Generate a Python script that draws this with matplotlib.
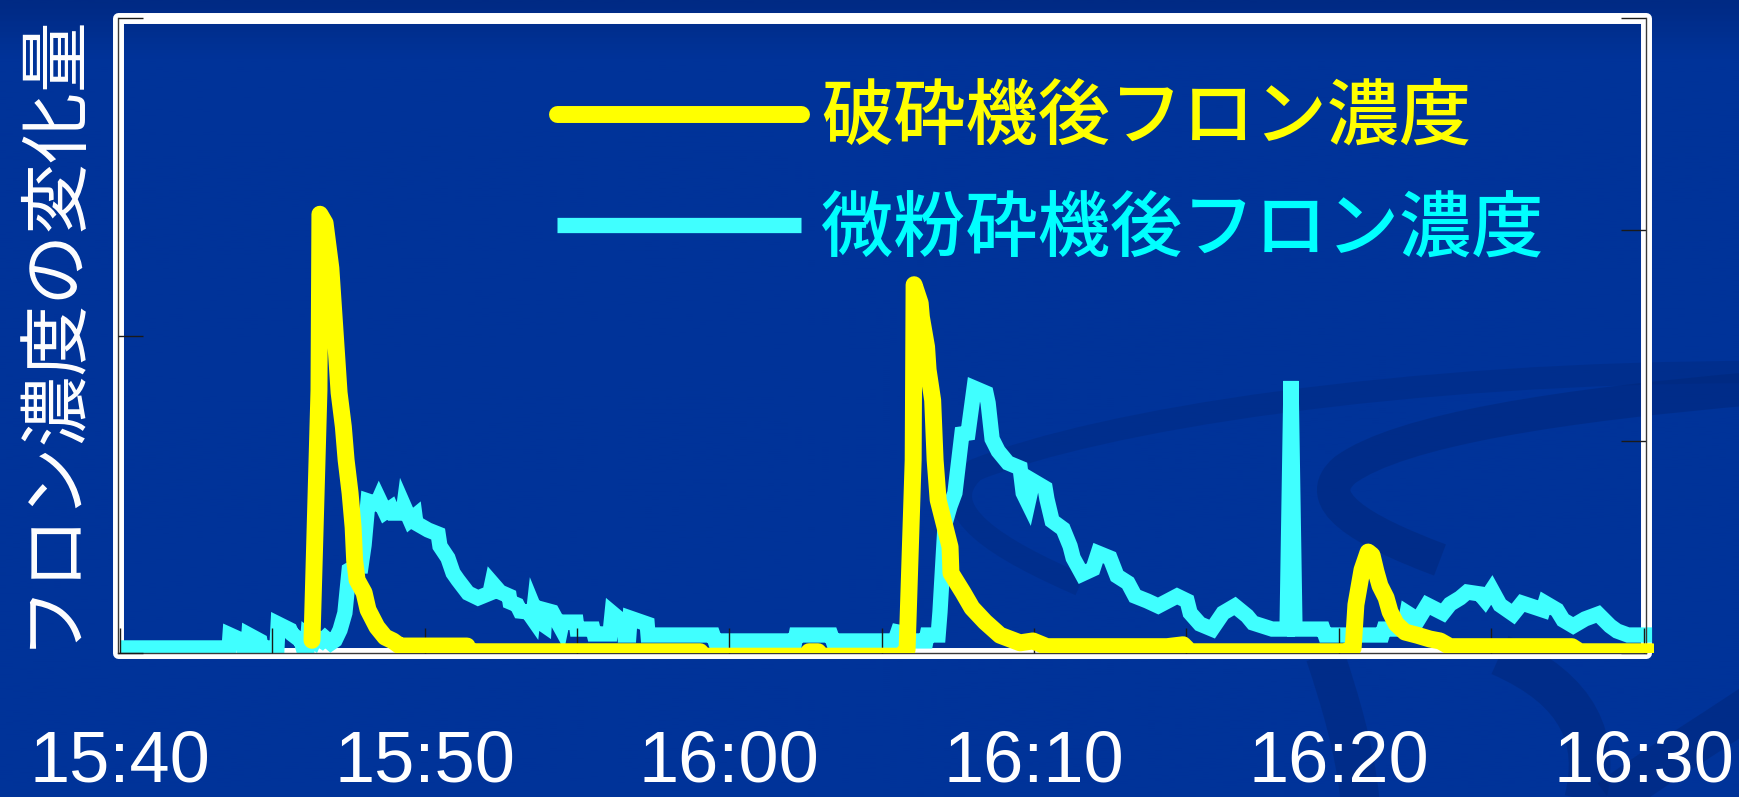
import matplotlib
matplotlib.use('Agg')
import matplotlib.pyplot as plt
from matplotlib.patches import Rectangle, PathPatch
from matplotlib.path import Path
from matplotlib.transforms import Bbox, TransformedBbox
from matplotlib.colors import LinearSegmentedColormap
import numpy as np

# minutes after 15:40
crusher_min = [6.30, 6.53, 6.56, 6.73, 6.92, 7.12, 7.19, 7.33, 7.42, 7.55,
               7.65, 7.70, 7.78, 8.01, 8.14, 8.43, 8.70, 8.96, 9.19, 11.39,
               11.45, 19.04, 19.10, 22.55, 22.61, 22.91, 22.97, 25.60, 25.83, 26.03,
               26.06, 26.26, 26.30, 26.47, 26.52, 26.67, 26.75, 26.85, 27.24, 27.27,
               27.67, 27.96, 28.39, 28.88, 29.54, 29.96, 30.42, 34.36, 34.89, 35.12,
               40.20, 40.47, 40.56, 40.76, 40.96, 41.09, 41.22, 41.35, 41.55, 41.68,
               41.88, 42.17, 42.57, 42.99, 43.32, 43.65, 47.65, 47.91, 50.28]
crusher_val = [20, 414, 691, 677, 606, 461, 410, 356, 304, 252,
               198, 146, 115, 95, 68, 41, 25, 19, 11, 11,
               2, 2, -5, -5, 2, 2, -5, -5, 5, 304,
               580, 551, 529, 482, 446, 398, 304, 241, 167, 126,
               95, 71, 49, 28, 16, 19, 10, 10, 13, 2,
               2, 8, 76, 131, 159, 154, 128, 106, 87, 65,
               46, 33, 28, 22, 19, 10, 10, 2, 2]

mill_min = [0.00, 3.58, 3.61, 4.04, 4.07, 4.20, 4.23, 4.59, 4.63, 5.15,
            5.19, 5.58, 5.64, 5.94, 6.01, 6.14, 6.17, 6.37, 6.43, 6.63,
            6.73, 6.92, 7.06, 7.22, 7.38, 7.52, 7.75, 7.91, 8.01, 8.14,
            8.43, 8.50, 8.70, 8.89, 8.96, 9.29, 9.32, 9.52, 9.68, 9.71,
            10.11, 10.44, 10.50, 10.76, 10.93, 11.09, 11.42, 11.75, 12.14, 12.21,
            12.47, 12.77, 12.80, 13.03, 13.13, 13.39, 13.55, 13.59, 13.78, 13.92,
            13.95, 14.18, 14.47, 14.51, 14.97, 15.00, 15.52, 15.56, 16.08, 16.15,
            16.54, 16.57, 16.70, 16.74, 17.30, 17.33, 19.46, 19.53, 22.15, 22.19,
            23.33, 23.40, 25.43, 25.53, 25.70, 25.76, 26.45, 26.49, 26.85, 26.91,
            27.08, 27.24, 27.40, 27.63, 27.83, 28.03, 28.42, 28.49, 28.62, 28.82,
            29.14, 29.54, 29.64, 29.80, 29.96, 30.36, 30.42, 30.59, 30.95, 31.18,
            31.28, 31.57, 31.93, 32.10, 32.49, 32.72, 33.08, 33.31, 33.71, 34.07,
            34.69, 35.02, 35.12, 35.44, 35.84, 36.20, 36.59, 36.99, 37.18, 37.81,
            38.30, 38.43, 38.56, 39.48, 39.55, 41.42, 41.48, 42.14, 42.24, 42.60,
            42.90, 43.42, 43.65, 43.98, 44.21, 44.63, 44.80, 45.02, 45.29, 45.62,
            45.72, 46.01, 46.70, 46.77, 47.16, 47.36, 47.69, 48.08, 48.51, 48.90,
            49.13, 49.49, 50.28]
mill_val = [2.4, 2.4, 8.5, 5.7, 2.4, 2.4, 8.5, 5.7, 2.4, 2.4,
            13.7, 10.9, 9.0, 5.7, 2.4, 2.4, 8.0, 5.7, 7.6, 5.7,
            7.1, 4.7, 6.1, 10.9, 18.9, 39.2, 41.1, 41.1, 51.0, 71.8,
            70.4, 72.7, 66.6, 68.5, 66.1, 66.1, 69.4, 62.8, 64.7, 61.4,
            58.1, 56.2, 50.5, 44.9, 37.8, 34.5, 28.3, 26.0, 28.3, 33.1,
            28.8, 26.9, 24.1, 22.7, 19.8, 19.4, 16.1, 21.3, 14.6, 13.2,
            20.3, 19.4, 11.8, 14.6, 14.6, 11.3, 11.3, 9.0, 9.0, 18.9,
            14.2, 8.5, 8.5, 16.5, 13.7, 8.5, 8.5, 5.7, 5.7, 8.5,
            8.5, 5.7, 5.7, 9.9, 9.4, 5.7, 5.7, 8.5, 8.5, 19.4,
            61.4, 69.4, 75.6, 103.5, 103.9, 125.2, 122.8, 118.1, 101.1, 95.4,
            89.8, 87.4, 75.6, 70.9, 81.3, 77.9, 72.7, 62.4, 58.6, 50.5,
            44.9, 37.3, 39.7, 47.2, 44.9, 36.4, 33.1, 26.9, 24.6, 22.2,
            26.9, 24.6, 18.9, 13.7, 11.3, 18.9, 22.2, 17.5, 14.2, 11.3,
            11.3, 128.5, 11.3, 11.3, 8.5, 8.5, 11.3, 11.3, 18.9, 15.6,
            22.7, 18.9, 23.1, 26.0, 28.8, 27.9, 25.0, 29.8, 22.7, 19.4,
            18.4, 23.6, 20.3, 23.6, 20.3, 15.6, 12.8, 16.1, 18.4, 12.8,
            10.4, 8.5, 8.5]

time_ticks = [0, 5, 10, 15, 20, 25, 30, 35, 40, 45, 50]
time_labels = ['15:40', '', '15:50', '', '16:00', '', '16:10', '', '16:20', '', '16:30']

crusher_label = '破砕機後フロン濃度'
mill_label = '微粉砕機後フロン濃度'
y_title = 'フロン濃度の変化量'

W, H = 1740, 797
fig = plt.figure(figsize=(W / 100, H / 100), dpi=100)
fig.patch.set_facecolor('#003399')

# slide background: slight darkening at the top plus the darker swirl ribbons
bg = fig.add_axes([0, 0, 1, 1], zorder=-10)
bg.set_xlim(0, W)
bg.set_ylim(H, 0)
bg.axis('off')
shade = np.linspace(0, 1, 400).reshape(-1, 1)
bg_cmap = LinearSegmentedColormap.from_list('slide', [(0, '#002a84'), (0.07, '#003399'), (1, '#003399')])
bg.imshow(shade, extent=[0, W, H, 0], aspect='auto', cmap=bg_cmap)


def ribbon(pts, width, alpha=0.55):
    codes = [Path.MOVETO] + [Path.CURVE4] * (len(pts) - 1)
    bg.add_patch(PathPatch(Path(pts, codes), fill=False, lw=width,
                           ec='#00287c', alpha=alpha, capstyle='butt'))


ribbon([(1760, 388), (1560, 405), (1400, 430), (1345, 470),
        (1310, 500), (1360, 530), (1440, 560)], 24)
ribbon([(1760, 372), (1400, 372), (1100, 420), (975, 470),
        (930, 510), (1000, 550), (1080, 585)], 16, alpha=0.4)
ribbon([(1325, 655), (1340, 700), (1355, 750), (1360, 800)], 28)
ribbon([(1500, 655), (1580, 690), (1600, 740), (1585, 800)], 30)
ribbon([(1760, 700), (1700, 740), (1650, 770), (1610, 800)], 30)

# plot area
ax = fig.add_axes([118 / W, 1 - 653 / H, 1528 / W, 635 / H])
ax2 = ax.twinx()
ax.set_zorder(ax2.get_zorder() + 1)
ax.patch.set_visible(False)
ax2.patch.set_visible(False)

mill_line, = ax2.plot(mill_min, mill_val, color='#40FFFF', lw=11,
                      solid_joinstyle='miter', solid_capstyle='butt', label=mill_label)
crusher_line, = ax.plot(crusher_min, crusher_val, color='#FFFF00', lw=12.2,
                        solid_joinstyle='round', solid_capstyle='round', label=crusher_label)
for line in (mill_line, crusher_line):
    line.set_clip_path(None)
    line.set_clip_box(TransformedBbox(Bbox([[-0.01, 0], [1.005, 1.1]]), line.axes.transAxes))

ax.set_xlim(-0.066, 50.08)
ax.set_ylim(0, 1000)
ax2.set_ylim(0, 300)

# white border of the plot area
ax2.add_patch(Rectangle((0, 0), 1, 1, transform=ax2.transAxes, fill=False, ec='white',
                        lw=7.9, joinstyle='round', clip_on=False, zorder=0.5))

for s in ax.spines.values():
    s.set_visible(False)
ax2.spines['top'].set_visible(False)
for side in ('left', 'right', 'bottom'):
    ax2.spines[side].set_color('#3a3a3a')
    ax2.spines[side].set_linewidth(1.0)

tick_style = dict(direction='in', length=18, width=1.0, color='#1a1a1a')
ax.set_yticks([0, 500, 1000])
ax.tick_params(axis='y', labelleft=False, **tick_style)
ax2.set_yticks([0, 100, 200, 300])
ax2.tick_params(axis='y', labelright=False, **tick_style)
ax.set_xticks(time_ticks)
ax.set_xticklabels(time_labels, fontsize=52, color='white', family='Liberation Sans')
ax.tick_params(axis='x', pad=55, **tick_style)

fig.text(50 / W, 1 - 329 / H, y_title, rotation=90, ha='center', va='center',
         color='white', fontsize=51, family=['Noto Sans CJK JP'])

ax.legend(handles=[crusher_line, mill_line], loc='upper left',
          bbox_to_anchor=(557 / W, 1 - 81 / H), bbox_transform=fig.transFigure,
          frameon=False, prop={'family': 'Noto Sans CJK JP', 'size': 52, 'weight': 'medium'},
          handlelength=3.38, handletextpad=0.28, labelspacing=0.52,
          borderpad=0, borderaxespad=0, labelcolor=['#FFFF00', '#00FFFF'])

fig.savefig('out.png', dpi=100, facecolor=fig.get_facecolor())
